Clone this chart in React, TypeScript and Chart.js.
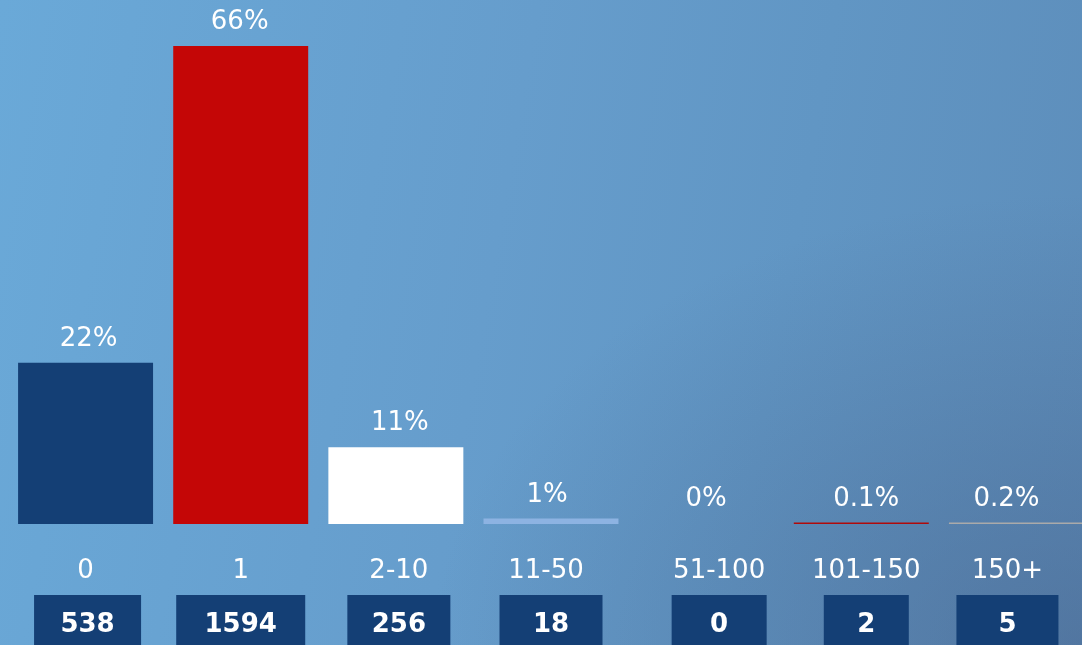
import React, { useEffect, useRef } from "react";
import { Chart, registerables } from "chart.js";

Chart.register(...registerables);

const categories = ["0", "1", "2-10", "11-50", "51-100", "101-150", "150+"];
const counts = [538, 1594, 256, 18, 0, 2, 5];
const percentLabels = ["22%", "66%", "11%", "1%", "0%", "0.1%", "0.2%"];
const barColors = ["#143f75", "#c40606", "#ffffff", "#8db3e2", "rgba(0,0,0,0)", "#b00a0a", "#aaaaaa"];

// layout nudges for the text/boxes (style only)
const boxWidths = [107, 129, 103, 103, 95, 85, 102];
const pctShift = [3, -1, 4, -4, 0, 5, -10];
const catShift = [0, 0, 3, -5, 13, 5, -9];
const boxShift = [2, 0, 3, 0, 13, 5, -9];

const FONT = "'DejaVu Sans', Verdana, sans-serif";

const labelsPlugin = {
  id: "customLabels",
  afterDatasetsDraw(chart: any) {
    const ctx = chart.ctx as CanvasRenderingContext2D;
    const xScale = chart.scales.x;
    const yScale = chart.scales.y;
    const meta = chart.getDatasetMeta(0);
    ctx.save();
    ctx.textAlign = "center";
    ctx.textBaseline = "alphabetic";
    categories.forEach((cat, i) => {
      const x = xScale.getPixelForValue(i);
      const bar = meta.data[i];
      const top = Math.min(bar.y, yScale.getPixelForValue(0));
      ctx.fillStyle = "#ffffff";
      ctx.font = `26px ${FONT}`;
      ctx.fillText(percentLabels[i], x + pctShift[i], top - 17);
      ctx.fillText(cat, x + catShift[i], 578);
      const w = boxWidths[i];
      const bx = x + boxShift[i];
      ctx.fillStyle = "#143f75";
      ctx.fillRect(bx - w / 2, 595, w, 60);
      ctx.fillStyle = "#ffffff";
      ctx.font = `bold 26px ${FONT}`;
      ctx.fillText(String(counts[i]), bx, 632);
    });
    ctx.restore();
  },
};

export default function App() {
  const canvasRef = useRef<HTMLCanvasElement | null>(null);

  useEffect(() => {
    const canvas = canvasRef.current;
    if (!canvas) return;
    const maxVal = Math.max(...counts);
    const chart = new Chart(canvas, {
      type: "bar",
      data: {
        labels: categories,
        datasets: [
          {
            data: counts,
            backgroundColor: barColors,
            borderWidth: 0,
            barPercentage: 0.87,
            categoryPercentage: 1,
            minBarLength: 1.5,
          },
        ],
      },
      options: {
        responsive: false,
        animation: false,
        layout: { padding: { left: 8, right: 0, top: 0, bottom: 121 } },
        plugins: {
          legend: { display: false },
          tooltip: { enabled: false },
        },
        scales: {
          x: { display: false, grid: { display: false } },
          y: { display: false, min: 0, max: maxVal * 1.0962, grid: { display: false } },
        },
      },
      plugins: [labelsPlugin],
    });
    return () => chart.destroy();
  }, []);

  return (
    <div
      style={{
        position: "fixed",
        left: 0,
        top: 0,
        width: 1082,
        height: 645,
        overflow: "hidden",
        background:
          "radial-gradient(ellipse 60% 70% at 100% 100%, rgba(70,95,135,0.5), rgba(70,95,135,0) 100%), linear-gradient(100deg, #6aa9d8 0%, #669dcc 45%, #6196c4 70%, #5d8dba 100%)",
      }}
    >
      <canvas
        ref={canvasRef}
        width={1094}
        height={645}
        style={{ position: "absolute", left: 0, top: 0, width: 1094, height: 645 }}
      />
    </div>
  );
}
